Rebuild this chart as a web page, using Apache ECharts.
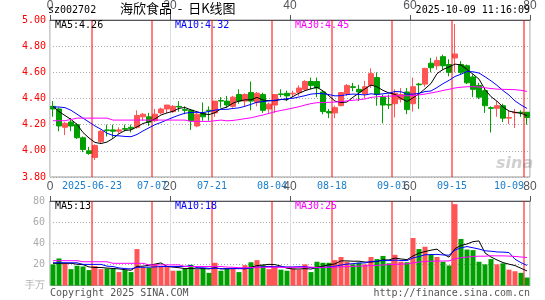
<!DOCTYPE html>
<html>
<head>
<meta charset="utf-8">
<title>海欣食品 - 日K线图</title>
<script src="https://cdn.jsdelivr.net/npm/echarts@6/dist/echarts.min.js"></script>
<style>
html,body{margin:0;padding:0;background:#fff;}
#chart{width:545px;height:300px;}
</style>
</head>
<body>
<div id="chart"></div>
<script>
// 交易日
var dates = ['2025-06-12','2025-06-13','2025-06-16','2025-06-17','2025-06-18','2025-06-19','2025-06-20',
  '2025-06-23','2025-06-24','2025-06-25','2025-06-26','2025-06-27','2025-06-30','2025-07-01','2025-07-02','2025-07-03','2025-07-04',
  '2025-07-07','2025-07-08','2025-07-09','2025-07-10','2025-07-11','2025-07-14','2025-07-15','2025-07-16','2025-07-17','2025-07-18',
  '2025-07-21','2025-07-22','2025-07-23','2025-07-24','2025-07-25','2025-07-28','2025-07-29','2025-07-30','2025-07-31','2025-08-01',
  '2025-08-04','2025-08-05','2025-08-06','2025-08-07','2025-08-08','2025-08-11','2025-08-12','2025-08-13','2025-08-14','2025-08-15',
  '2025-08-18','2025-08-19','2025-08-20','2025-08-21','2025-08-22','2025-08-25','2025-08-26','2025-08-27','2025-08-28','2025-08-29',
  '2025-09-01','2025-09-02','2025-09-03','2025-09-04','2025-09-05','2025-09-08','2025-09-09','2025-09-10','2025-09-11','2025-09-12',
  '2025-09-15','2025-09-16','2025-09-17','2025-09-18','2025-09-19','2025-09-22','2025-09-23','2025-09-24','2025-09-25','2025-09-26',
  '2025-09-29','2025-09-30','2025-10-09'];

var opens = [4.34,4.32,4.18,4.22,4.20,4.10,4.00,3.95,4.07,4.16,4.16,4.15,4.17,4.18,4.18,4.26,4.26,4.23,4.29,4.32,
  4.30,4.34,4.315,4.31,4.19,4.29,4.31,4.29,4.385,4.38,4.34,4.43,4.38,4.445,4.37,4.43,4.32,4.35,4.435,4.44,
  4.435,4.445,4.47,4.53,4.53,4.45,4.30,4.29,4.345,4.435,4.49,4.47,4.435,4.50,4.56,4.41,4.355,4.36,4.395,4.45,
  4.36,4.51,4.51,4.67,4.65,4.72,4.66,4.71,4.66,4.65,4.565,4.50,4.46,4.33,4.325,4.345,4.25,4.29,4.295,4.295];
var closes = [4.32,4.19,4.21,4.19,4.10,4.01,3.98,4.04,4.15,4.155,4.15,4.16,4.165,4.17,4.27,4.28,4.22,4.28,4.32,4.35,
  4.34,4.335,4.31,4.23,4.28,4.26,4.305,4.38,4.38,4.35,4.41,4.38,4.43,4.38,4.44,4.31,4.357,4.43,4.43,4.42,
  4.44,4.48,4.53,4.50,4.48,4.30,4.29,4.33,4.445,4.50,4.485,4.45,4.49,4.59,4.43,4.35,4.35,4.44,4.43,4.315,
  4.49,4.505,4.63,4.635,4.69,4.65,4.60,4.74,4.60,4.52,4.47,4.41,4.345,4.325,4.345,4.25,4.255,4.295,4.29,4.255];
var lows = [4.26,4.15,4.12,4.15,4.09,3.99,3.97,3.93,4.06,4.11,4.10,4.13,4.15,4.14,4.17,4.23,4.19,4.22,4.28,4.29,
  4.29,4.30,4.28,4.16,4.18,4.23,4.23,4.26,4.33,4.33,4.33,4.36,4.34,4.31,4.34,4.29,4.29,4.29,4.41,4.38,
  4.41,4.42,4.46,4.47,4.41,4.28,4.25,4.25,4.34,4.42,4.455,4.38,4.40,4.48,4.345,4.21,4.32,4.255,4.37,4.28,
  4.30,4.32,4.49,4.60,4.62,4.62,4.57,4.60,4.585,4.51,4.41,4.395,4.29,4.14,4.26,4.22,4.205,4.175,4.26,4.20];
var highs = [4.38,4.33,4.22,4.25,4.21,4.11,4.03,4.05,4.16,4.20,4.20,4.18,4.20,4.20,4.31,4.29,4.29,4.32,4.33,4.35,
  4.35,4.38,4.34,4.32,4.29,4.37,4.34,4.38,4.41,4.42,4.42,4.47,4.44,4.53,4.45,4.445,4.37,4.43,4.47,4.46,
  4.46,4.50,4.54,4.56,4.56,4.46,4.32,4.345,4.445,4.51,4.52,4.505,4.535,4.63,4.60,4.43,4.43,4.47,4.48,4.48,
  4.56,4.52,4.635,4.71,4.72,4.735,4.70,4.97,4.685,4.66,4.585,4.52,4.48,4.34,4.38,4.36,4.31,4.32,4.31,4.295];
// 成交量(万手)
var volumes = [20,25.6,21,15.5,18.7,18,14.6,18.4,15.5,16,16,12.7,14.6,12.7,34.5,17,17,20,18.4,17.7,
  14,14,15.8,19.6,15.2,15.8,12,21.5,14,16.5,16,12.7,19.3,22,24,19.3,15.5,18,15,14,
  16,15,20,12.7,22.5,21.5,21.5,24,27,22.5,20,21.5,20,27,25,28,21,29,22.5,22,
  45,34.5,36.7,29,27,22.5,19,77,44,34,33.5,22.5,20,25,20,21,15,13.5,12,7.5];

// 图表左端之前的均线读数(前几日数据不在图内)
var ma5Head = [4.34,4.30,4.27,4.24];
var ma10Head = [4.335,4.335,4.33,4.31,4.28,4.25,4.22,4.19,4.165];
var ma30Head = [4.23,4.23,4.23,4.24,4.25,4.25,4.25,4.25,4.25,4.25,4.235,4.235,4.235,4.235,4.235,4.235,4.235,
  4.235,4.235,4.235,4.235,4.235,4.235,4.225,4.225,4.225,4.225,4.23,4.235];
var volMa5Head = [21,21,21,21];
var volMa10Head = [21.5,21.5,21.5,21.5,21.5,20,20,20,20];
var volMa30Head = [23.5,23.5,23.5,23.5,23.5,22.5,22.5,22.5,22.5,22.5,21,21,21,21,21,21,19.5,19.5,19.5,19.5,19.5,
  19.5,18,18,18,18,18,18,18];

var tickDates = ['2025-06-23','2025-07-07','2025-07-21','2025-08-04','2025-08-18','2025-09-01','2025-09-15','2025-10-09'];
var tickLabels = ['2025-06-23','07-07','07-21','08-04','08-18','09-01','09-15','10-09'];
var priceTicks = [3.8,4.0,4.2,4.4,4.6,4.8,5.0];
var volTicks = [0,20,40,60,80];

var maText = ['MA5:4.26','MA10:4.32','MA30:4.45'];
var volMaText = ['MA5:13','MA10:18','MA30:25'];

var RED = '#ff5555', GREEN = '#00a000';
var MONO = 'DejaVu Sans Mono';

function calcMA(values, n, head){
	var out = [];
	for (var i = 0; i < values.length; i++) {
		if (i < n - 1) { out.push(head[i]); continue; }
		var s = 0;
		for (var j = i - n + 1; j <= i; j++) s += values[j];
		out.push(+(s / n).toFixed(4));
	}
	return out;
}

var tickIdx = tickDates.map(function(d){ return dates.indexOf(d); });

var kData = [], volData = [];
for (var i = 0; i < dates.length; i++) {
	kData.push([opens[i], closes[i], lows[i], highs[i]]);
	volData.push({value: volumes[i], itemStyle: {color: closes[i] >= opens[i] ? RED : GREEN}});
}

function hSplit(){
	return {show: true, lineStyle: {color: '#aaa', type: [1, 2], width: 1}};
}

// 竖向虚线: 日期那根K线格子的左边 (数值轴, 格子i占 i..i+1)
function dateLines(xi, yi, y0, y1){
	var pts = [];
	tickIdx.forEach(function(i){ pts.push([i, y0], [i, y1], [i, null]); });
	return {type: 'line', data: pts, xAxisIndex: xi, yAxisIndex: yi, symbol: 'none',
		lineStyle: {color: '#ff0000', width: 1}};
}

function maLine(name, data, color, xi){
	return {name: name, type: 'line', data: data, xAxisIndex: xi, yAxisIndex: xi, symbol: 'none', z: 5,
		lineStyle: {color: color, width: 1}, silent: true};
}

function txt(pos, text, color, font){
	var g = {type: 'text', z: 100, style: {text: text, fill: color, font: font || ('10px ' + MONO)}};
	for (var k in pos) g[k] = pos[k];
	return g;
}

var myChart = echarts.init(document.getElementById('chart'));
var option = {
	animation: false,
	grid: [
		{left: 50, top: 18, width: 480, height: 159, show: true, borderColor: '#999'},
		{left: 50, top: 201, width: 480, height: 84.5, show: true, borderColor: '#999'}
	],
	xAxis: [{
		type: 'category', gridIndex: 0, data: dates, boundaryGap: true,
		axisLine: {show: false}, axisTick: {show: false}, splitLine: {show: false},
		axisLabel: {
			interval: function(i){ return tickIdx.indexOf(i) >= 0; }, margin: 4,
			formatter: function(v, i){
				var k = tickIdx.indexOf(i);
				if (k < 0) return '';
				return (k == tickIdx.length - 1 ? '{r|' : '{c|') + tickLabels[k] + '}';
			},
			rich: {
				c: {color: '#1a7dcd', fontFamily: MONO, fontSize: 10, padding: [0, 6, 0, 0]},
				r: {color: '#1a7dcd', fontFamily: MONO, fontSize: 10, padding: [0, 36, 0, 0]}
			}
		}
	}, {
		type: 'category', gridIndex: 1, data: dates, boundaryGap: true,
		axisLine: {show: false}, axisTick: {show: false}, axisLabel: {show: false}, splitLine: {show: false}
	}, {
		type: 'value', gridIndex: 0, min: 0, max: dates.length
	}, {
		type: 'value', gridIndex: 1, min: 0, max: dates.length
	}],
	yAxis: [{
		type: 'value', gridIndex: 0, min: priceTicks[0], max: priceTicks[priceTicks.length - 1], interval: 0.2,
		axisLine: {show: false}, axisTick: {show: false},
		axisLabel: {color: '#ff0000', fontFamily: MONO, fontSize: 10, margin: 4,
			formatter: function(v){ return v.toFixed(2); }},
		splitLine: hSplit()
	}, {
		type: 'value', gridIndex: 1, min: volTicks[0], max: volTicks[volTicks.length - 1], interval: 20,
		axisLine: {show: false}, axisTick: {show: false},
		axisLabel: {color: '#aaa', fontFamily: MONO, fontSize: 10, margin: 5,
			formatter: function(v){ return v === 0 ? '手万' : v; }},
		splitLine: hSplit()
	}],
	series: [
		dateLines(2, 0, priceTicks[0], priceTicks[priceTicks.length - 1]),
		dateLines(3, 1, volTicks[0], volTicks[volTicks.length - 1]),
		{
			type: 'candlestick', data: kData, xAxisIndex: 0, yAxisIndex: 0, barWidth: 5,
			itemStyle: {color: RED, color0: GREEN, borderColor: RED, borderColor0: GREEN, borderWidth: 1}
		},
		maLine('MA5', calcMA(closes, 5, ma5Head), '#000', 0),
		maLine('MA10', calcMA(closes, 10, ma10Head), '#0000ff', 0),
		maLine('MA30', calcMA(closes, 30, ma30Head), '#ff00ff', 0),
		{type: 'bar', data: volData, xAxisIndex: 1, yAxisIndex: 1, barWidth: 5},
		maLine('VMA5', calcMA(volumes, 5, volMa5Head), '#000', 1),
		maLine('VMA10', calcMA(volumes, 10, volMa10Head), '#0000ff', 1),
		maLine('VMA30', calcMA(volumes, 30, volMa30Head), '#ff00ff', 1)
	],
	graphic: [
		txt({left: 48, top: 5}, 'sz002702', '#000'),
		txt({left: 120, top: 2}, '海欣食品  -  日K线图', '#000', '13px "Noto Sans CJK SC"'),
		txt({right: 15, top: 5}, '2025-10-09 11:16:09', '#000'),
		txt({left: 55, top: 20}, maText[0], '#000'),
		txt({left: 175, top: 20}, maText[1], '#0000ff'),
		txt({left: 295, top: 20}, maText[2], '#ff00ff'),
		txt({left: 55, top: 201}, volMaText[0], '#000'),
		txt({left: 175, top: 201}, volMaText[1], '#0000ff'),
		txt({left: 295, top: 201}, volMaText[2], '#ff00ff'),
		txt({left: 50, top: 288}, 'Copyright 2025 SINA.COM', '#555'),
		txt({right: 15, top: 288}, 'http://finance.sina.com.cn', '#555'),
		txt({left: 496, top: 156}, 'sina', 'rgba(120,120,120,0.35)', 'italic bold 16px "DejaVu Sans"')
	]
};
myChart.setOption(option);
</script>
</body>
</html>
